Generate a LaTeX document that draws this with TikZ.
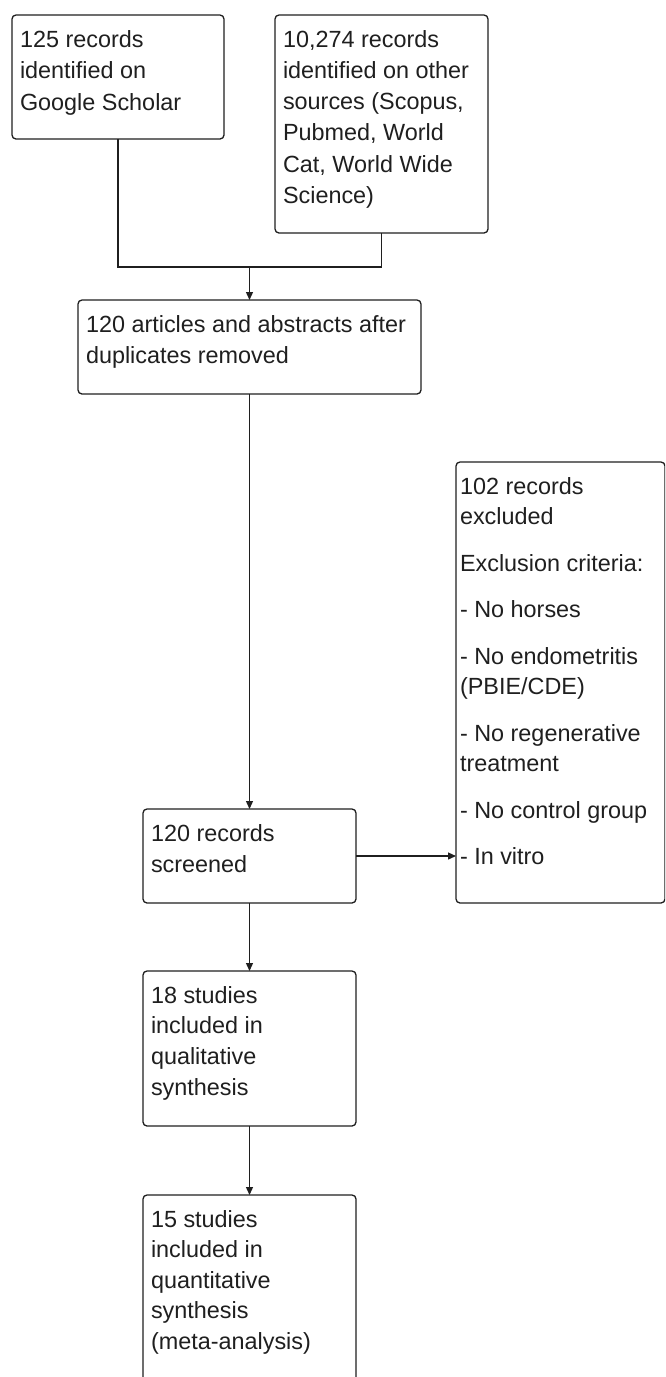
\documentclass[tikz,border=0pt]{standalone}
\usepackage{fontspec}
\setmainfont{Liberation Sans}
\usetikzlibrary{arrows.meta}
\newcommand{\bx}[4]{\parbox[c][#2][t]{#1}{\raggedright\baselineskip=#3\relax\rule{0pt}{32pt}#4}}
\begin{document}
\begin{tikzpicture}[x=1pt,y=-1pt,
  box/.style={draw=black!88, line width=1.3pt, rounded corners=4pt, inner xsep=8pt, inner ysep=0pt, outer sep=0pt, anchor=north west, text=black!88, font=\fontsize{23.4pt}{31pt}\selectfont},
  link/.style={draw=black!88, line width=1.3pt},
  arr/.style={link, -{Triangle[length=8pt,width=7pt]}}]
\clip (0,0) rectangle (665,1377);
\fill[white] (0,0) rectangle (665,1377);

\node[box] (b1) at (12,15) {\bx{196pt}{124pt}{31.5pt}{125 records\\identified on\\Google Scholar}};
\node[box] (b2) at (275,15) {\bx{197pt}{218pt}{31.3pt}{10,274 records\\identified on other\\sources (Scopus,\\Pubmed, World\\Cat, World Wide\\Science)}};
\node[box] (b3) at (78,300) {\bx{327pt}{94pt}{31pt}{120 articles and abstracts after\\duplicates removed}};
\node[box] (b4) at (143,809) {\bx{197pt}{94pt}{31pt}{120 records\\screened}};
\node[box, inner xsep=4pt] (b5) at (456,462) {\bx{201pt}{441pt}{30.5pt}{102 records\\excluded\\[16pt]Exclusion criteria:\\[16pt]- No horses\\[16pt]- No endometritis\\(PBIE/CDE)\\[16pt]- No regenerative\\treatment\\[16pt]- No control group\\[16pt]- In vitro}};
\node[box] (b6) at (143,971) {\bx{197pt}{155pt}{30.7pt}{18 studies\\included in\\qualitative\\synthesis}};
\node[box] (b7) at (143,1195) {\bx{197pt}{200pt}{30.5pt}{15 studies\\included in\\quantitative\\synthesis\\(meta-analysis)}};

\coordinate (j) at (249.5,267);
\draw[link] (b1.south) |- (j) -| (b2.south);
\draw[arr] (j) -- (b3.north);
\draw[arr] (b3.south) -- (b4.north);
\draw[arr] (b4.east) -- (b4.east -| b5.west);
\draw[arr] (b4.south) -- (b6.north);
\draw[arr] (b6.south) -- (b7.north);
\end{tikzpicture}
\end{document}
